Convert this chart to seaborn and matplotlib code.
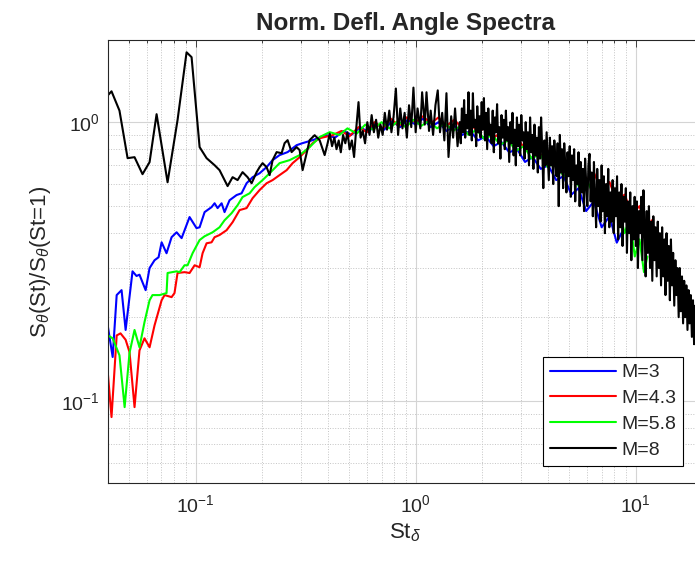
import numpy as np
import seaborn as sns
import matplotlib.pyplot as plt
from matplotlib.ticker import LogLocator, NullFormatter

# Strouhal number / normalised spectrum
st_m3 = [0.040, 0.0420, 0.0438, 0.0461, 0.0481, 0.0517, 0.0539, 0.0556, 0.0593, 0.0618,
         0.0651, 0.0679, 0.0701, 0.0738, 0.0778, 0.0820, 0.0864, 0.0939, 0.1010, 0.1043,
         0.1099, 0.1182, 0.1220, 0.1259, 0.1313, 0.1354, 0.1427, 0.1536, 0.1618, 0.1705,
         0.1816, 0.1954, 0.2102, 0.2239, 0.2408, 0.2619, 0.2878, 0.3064, 0.3402, 0.3939,
         0.43, 0.47, 0.51, 0.56, 0.61, 0.66, 0.72, 0.78, 0.85, 0.92,
         1.00, 1.08, 1.17, 1.27, 1.38, 1.50, 1.63, 1.77, 1.92, 2.08,
         2.26, 2.45, 2.66, 2.89, 3.14, 3.40, 3.70, 4.00, 4.35, 4.70,
         5.10, 5.50, 5.95, 6.45, 7.00, 7.60, 8.20, 8.60]
s_m3 = [0.184, 0.144, 0.240, 0.250, 0.180, 0.292, 0.281, 0.284, 0.250, 0.300,
        0.320, 0.328, 0.371, 0.339, 0.387, 0.403, 0.384, 0.457, 0.417, 0.420,
        0.476, 0.496, 0.512, 0.492, 0.512, 0.476, 0.525, 0.548, 0.556, 0.604,
        0.635, 0.656, 0.690, 0.731, 0.762, 0.781, 0.827, 0.841, 0.862, 0.898,
        0.88, 0.93, 0.90, 0.96, 0.92, 0.99, 0.94, 1.01, 0.96, 1.02,
        0.98, 1.03, 0.96, 1.00, 0.93, 0.97, 0.90, 0.93, 0.86, 0.89,
        0.82, 0.85, 0.78, 0.80, 0.72, 0.75, 0.68, 0.70, 0.62, 0.64,
        0.55, 0.58, 0.48, 0.52, 0.42, 0.46, 0.37, 0.40]

st_m43 = [0.040, 0.0415, 0.0438, 0.0456, 0.0481, 0.0501, 0.0528, 0.0556, 0.0586, 0.0618,
          0.0651, 0.0701, 0.0723, 0.0778, 0.0802, 0.0828, 0.0891, 0.0939, 0.0990, 0.1043,
          0.1076, 0.1122, 0.1182, 0.1220, 0.1285, 0.1383, 0.1473, 0.1585, 0.1705, 0.1816,
          0.1954, 0.2102, 0.2239, 0.2408, 0.2593, 0.2760, 0.2970, 0.3196, 0.3402, 0.3661,
          0.4195, 0.46, 0.50, 0.55, 0.60, 0.65, 0.71, 0.77, 0.84, 0.91,
          1.00, 1.08, 1.17, 1.27, 1.38, 1.50, 1.63, 1.77, 1.92, 2.08,
          2.26, 2.45, 2.66, 2.89, 3.14, 3.40, 3.70, 4.00, 4.35, 4.70,
          5.10, 5.50, 5.95, 6.45, 7.00, 7.60, 8.20, 8.90, 9.60, 10.4,
          11.2, 12.0]
s_m43 = [0.124, 0.0877, 0.172, 0.175, 0.166, 0.150, 0.0952, 0.152, 0.168, 0.156,
         0.187, 0.230, 0.240, 0.236, 0.244, 0.288, 0.290, 0.288, 0.307, 0.302,
         0.339, 0.368, 0.371, 0.387, 0.394, 0.410, 0.438, 0.484, 0.492, 0.534,
         0.571, 0.604, 0.620, 0.646, 0.673, 0.713, 0.749, 0.794, 0.841, 0.876,
         0.898, 0.93, 0.89, 0.96, 0.92, 1.00, 0.95, 1.03, 0.97, 1.04,
         1.00, 1.05, 0.99, 1.04, 0.97, 1.02, 0.95, 0.99, 0.92, 0.96,
         0.88, 0.92, 0.85, 0.88, 0.80, 0.84, 0.76, 0.79, 0.71, 0.74,
         0.66, 0.70, 0.62, 0.66, 0.57, 0.61, 0.52, 0.55, 0.47, 0.50,
         0.42, 0.45]

st_m58 = [0.040, 0.0420, 0.0451, 0.0476, 0.0501, 0.0528, 0.0556, 0.0586, 0.0618, 0.0637,
          0.0686, 0.0738, 0.0746, 0.0820, 0.0846, 0.0891, 0.0920, 0.0969, 0.1043, 0.1099,
          0.1195, 0.1285, 0.1354, 0.1458, 0.1552, 0.1635, 0.1760, 0.1854, 0.2016, 0.2170,
          0.2408, 0.2675, 0.2970, 0.3297, 0.3661, 0.4066, 0.45, 0.49, 0.54, 0.59,
          0.64, 0.70, 0.76, 0.83, 0.90, 0.98, 1.06, 1.15, 1.25, 1.36,
          1.48, 1.60, 1.74, 1.89, 2.05, 2.23, 2.42, 2.63, 2.86, 3.10,
          3.37, 3.66, 3.98, 4.30, 4.70, 5.10, 5.50, 6.00, 6.50, 7.00,
          7.60, 8.30, 8.90, 9.40, 9.90, 10.4, 10.9, 11.3]
s_m58 = [0.172, 0.168, 0.146, 0.0952, 0.149, 0.180, 0.156, 0.192, 0.230, 0.240,
         0.240, 0.244, 0.288, 0.292, 0.290, 0.307, 0.307, 0.339, 0.378, 0.390,
         0.403, 0.420, 0.445, 0.472, 0.504, 0.539, 0.556, 0.585, 0.620, 0.656,
         0.713, 0.731, 0.762, 0.814, 0.884, 0.921, 0.90, 0.95, 0.91, 0.98,
         0.94, 1.00, 0.95, 1.01, 0.96, 1.02, 0.97, 1.01, 0.95, 0.99,
         0.93, 0.97, 0.90, 0.94, 0.87, 0.90, 0.83, 0.86, 0.79, 0.82,
         0.74, 0.77, 0.69, 0.72, 0.64, 0.67, 0.59, 0.62, 0.54, 0.57,
         0.49, 0.51, 0.40, 0.45, 0.33, 0.38, 0.29, 0.33]

st_m8 = [0.0400, 0.0415, 0.0451, 0.0491, 0.0528, 0.0574, 0.0618, 0.0665, 0.0746, 0.0828,
         0.0910, 0.0959, 0.1043, 0.1122, 0.1220, 0.1285, 0.1398, 0.1473, 0.1552, 0.1635,
         0.1723, 0.1797, 0.1894, 0.1954, 0.2016, 0.2102, 0.2170, 0.2239, 0.2335, 0.2460,
         0.2538, 0.2619, 0.2731, 0.2878, 0.2970, 0.3064, 0.3196, 0.3297, 0.3475, 0.3661,
         0.3859,
         0.398, 0.407, 0.417, 0.427, 0.437, 0.447, 0.457, 0.468, 0.479, 0.490,
         0.501, 0.513, 0.525, 0.537, 0.550, 0.562, 0.575, 0.589, 0.603, 0.617,
         0.631, 0.646, 0.661, 0.676, 0.692, 0.708, 0.724, 0.741, 0.759, 0.776,
         0.794, 0.813, 0.832, 0.851, 0.871, 0.891, 0.912, 0.933, 0.955, 0.977,
         1.00, 1.02, 1.05, 1.07, 1.10, 1.12, 1.15, 1.17, 1.20, 1.23,
         1.26, 1.29, 1.32, 1.35, 1.38, 1.41, 1.45, 1.48, 1.51, 1.55,
         1.585, 1.603, 1.622, 1.641, 1.660, 1.679, 1.698, 1.718, 1.738, 1.758,
         1.778, 1.799, 1.820, 1.841, 1.862, 1.884, 1.905, 1.928, 1.950, 1.972,
         1.995, 2.018, 2.042, 2.065, 2.089, 2.113, 2.138, 2.163, 2.188, 2.213,
         2.239, 2.265, 2.291, 2.317, 2.344, 2.371, 2.399, 2.427, 2.455, 2.483,
         2.512, 2.541, 2.570, 2.600, 2.630, 2.661, 2.692, 2.723, 2.754, 2.786,
         2.818, 2.851, 2.884, 2.917, 2.951, 2.985, 3.020, 3.055, 3.090, 3.126,
         3.162, 3.199, 3.236, 3.273, 3.311, 3.350, 3.388, 3.428, 3.467, 3.508,
         3.548, 3.589, 3.631, 3.673, 3.715, 3.758, 3.802, 3.846, 3.890, 3.936,
         3.981, 4.027, 4.074, 4.121, 4.169, 4.217, 4.266, 4.315, 4.365, 4.416,
         4.467, 4.519, 4.571, 4.624, 4.677, 4.732, 4.786, 4.842, 4.898, 4.955,
         5.012, 5.070, 5.129, 5.188, 5.248, 5.309, 5.370, 5.433, 5.495, 5.559,
         5.623, 5.689, 5.754, 5.821, 5.888, 5.957, 6.026, 6.095, 6.166, 6.237,
         6.310, 6.383, 6.457, 6.531, 6.607, 6.683, 6.761, 6.839, 6.918, 6.998,
         7.079, 7.161, 7.244, 7.328, 7.413, 7.499, 7.586, 7.674, 7.762, 7.852,
         7.943, 8.035, 8.128, 8.222, 8.318, 8.414, 8.511, 8.610, 8.710, 8.810,
         8.913, 9.016, 9.120, 9.226, 9.333, 9.441, 9.550, 9.661, 9.772, 9.886,
         10.00, 10.12, 10.23, 10.35, 10.47, 10.59, 10.72, 10.84, 10.96, 11.09,
         11.22, 11.35, 11.48, 11.61, 11.75, 11.89, 12.02, 12.16, 12.30, 12.45,
         12.59, 12.74, 12.88, 13.03, 13.18, 13.34, 13.49, 13.65, 13.80, 13.96,
         14.13, 14.29, 14.45, 14.62, 14.79, 14.96, 15.14, 15.31, 15.49, 15.67,
         15.85, 16.03, 16.22, 16.41, 16.60, 16.79, 16.98, 17.18, 17.38, 17.58,
         17.78, 17.99, 18.20, 18.41, 18.62, 18.84, 19.05, 19.28, 19.50, 19.72,
         19.95, 20.18, 20.42]
s_m8 = [1.25, 1.29, 1.10, 0.743, 0.749, 0.651, 0.719, 1.068, 0.609, 1.017,
        1.78, 1.71, 0.814, 0.743, 0.701, 0.673, 0.590, 0.635, 0.620, 0.662,
        0.635, 0.604, 0.662, 0.690, 0.713, 0.690, 0.646, 0.731, 0.781, 0.774,
        0.841, 0.862, 0.781, 0.814, 0.794, 0.673, 0.774, 0.862, 0.898, 0.862,
        0.762,
        0.84, 0.91, 0.82, 0.88, 0.80, 0.86, 0.78, 0.90, 0.84, 0.92,
        0.80, 0.86, 0.75, 0.95, 1.18, 0.88, 0.93, 0.84, 1.00, 0.90,
        1.06, 0.92, 1.02, 0.88, 0.98, 0.90, 1.08, 0.94, 1.10, 0.92,
        1.05, 1.32, 0.90, 1.12, 0.95, 1.08, 0.88, 1.15, 0.96, 1.33,
        0.92, 1.12, 0.95, 1.28, 0.98, 1.28, 0.93, 1.10, 0.90, 1.15,
        1.30, 0.92, 1.08, 0.86, 1.27, 0.75, 1.05, 0.88, 1.12, 0.82,
        1.00, 0.84, 1.12, 0.92, 1.20, 0.88, 1.06, 0.95, 1.28, 0.90,
        1.10, 0.86, 1.27, 0.96, 1.02, 0.82, 1.14, 0.92, 1.05, 0.88,
        1.18, 0.94, 1.22, 0.86, 1.08, 0.80, 1.12, 0.90, 0.98, 0.84,
        1.10, 0.78, 1.04, 0.92, 1.16, 0.84, 0.96, 0.74, 1.06, 0.88,
        1.02, 0.80, 1.10, 0.86, 0.96, 0.72, 1.00, 0.84, 1.08, 0.76,
        0.94, 0.70, 1.04, 0.82, 0.98, 0.76, 1.06, 0.86, 0.92, 0.74,
        1.00, 0.80, 0.92, 0.70, 1.04, 0.78, 0.90, 0.68, 0.98, 0.76,
        0.88, 0.66, 0.96, 0.74, 1.04, 0.80, 0.58, 0.86, 0.70, 0.92,
        0.76, 0.62, 0.88, 0.70, 0.82, 0.60, 0.86, 0.72, 0.64, 0.84,
        0.50, 0.90, 0.66, 0.80, 0.58, 0.84, 0.70, 0.56, 0.78, 0.64,
        0.82, 0.54, 0.76, 0.62, 0.80, 0.52, 0.70, 0.60, 0.78, 0.50,
        0.72, 0.56, 0.68, 0.48, 0.74, 0.60, 0.50, 0.70, 0.77, 0.52,
        0.66, 0.46, 0.72, 0.54, 0.42, 0.68, 0.50, 0.62, 0.44, 0.70,
        0.48, 0.64, 0.40, 0.60, 0.46, 0.68, 0.42, 0.56, 0.44, 0.62,
        0.40, 0.58, 0.46, 0.64, 0.38, 0.56, 0.42, 0.60, 0.36, 0.54,
        0.44, 0.58, 0.34, 0.52, 0.40, 0.56, 0.32, 0.50, 0.38, 0.54,
        0.36, 0.52, 0.30, 0.48, 0.40, 0.54, 0.32, 0.57, 0.44, 0.28,
        0.48, 0.34, 0.50, 0.30, 0.44, 0.27, 0.46, 0.32, 0.42, 0.28,
        0.44, 0.30, 0.40, 0.26, 0.42, 0.28, 0.38, 0.24, 0.40, 0.27,
        0.36, 0.23, 0.38, 0.26, 0.34, 0.22, 0.32, 0.24, 0.30, 0.20,
        0.30, 0.21, 0.28, 0.19, 0.27, 0.20, 0.26, 0.18, 0.25, 0.19,
        0.24, 0.17, 0.23, 0.16, 0.22, 0.17, 0.21, 0.15, 0.20, 0.15,
        0.19, 0.14, 0.18]

labels = ["M=3", "M=4.3", "M=5.8", "M=8"]
colors = ["#0000ff", "#ff0000", "#00ff00", "#000000"]

sns.set_style("white")
plt.rcParams["font.family"] = ["Liberation Sans", "DejaVu Sans"]
plt.rcParams["mathtext.fontset"] = "custom"
plt.rcParams["mathtext.rm"] = "Liberation Sans"
plt.rcParams["mathtext.it"] = "Liberation Sans:italic"
plt.rcParams["mathtext.bf"] = "Liberation Sans:bold"

fig = plt.figure(figsize=(6.95, 5.7), dpi=100)
ax = fig.add_axes([108 / 695, 87 / 570, 594 / 695, 443 / 570])
ax.set_xscale("log")
ax.set_yscale("log")

series = [(st_m3, s_m3), (st_m43, s_m43), (st_m58, s_m58), (st_m8, s_m8)]
for (x, y), lab, col in zip(series, labels, colors):
    sns.lineplot(x=x, y=y, ax=ax, color=col, lw=1.5, label=lab,
                 estimator=None, sort=False)

ax.set_xlim(0.04, 20)
ax.set_ylim(0.0509, 1.97)

ax.xaxis.set_minor_locator(LogLocator(base=10, subs=np.arange(2, 10)))
ax.yaxis.set_minor_locator(LogLocator(base=10, subs=np.arange(2, 10)))
ax.xaxis.set_minor_formatter(NullFormatter())
ax.yaxis.set_minor_formatter(NullFormatter())

ax.grid(True, which="major", color="#d4d4d4", lw=0.8, ls="-")
ax.grid(True, which="minor", color="#c4c4c4", lw=0.7, ls=":")
ax.set_axisbelow(True)

ax.tick_params(which="both", direction="in", top=True, right=True,
               colors="#262626", labelsize=14, width=0.6)
ax.tick_params(which="major", length=5)
ax.tick_params(which="minor", length=2.5)
ax.tick_params(axis="x", pad=8)
ax.tick_params(axis="y", pad=6)
for sp in ax.spines.values():
    sp.set_color("#262626")
    sp.set_linewidth(0.8)

ax.set_title("Norm. Defl. Angle Spectra", fontsize=17.5, fontweight="bold", pad=7)
ax.set_xlabel(r"St$_\delta$", fontsize=16, color="#262626", labelpad=4)
ax.set_ylabel(r"S$_\theta$(St)/S$_\theta$(St=1)", fontsize=16, color="#262626", labelpad=6)

leg = ax.legend(loc="lower right", bbox_to_anchor=(683.3 / 695, 104 / 570),
                bbox_transform=fig.transFigure, borderaxespad=0, fontsize=14,
                handlelength=3.38, handletextpad=0.28, labelspacing=0.42,
                borderpad=0.37, fancybox=False, framealpha=1, edgecolor="black")
leg.get_frame().set_linewidth(0.8)

plt.savefig("out.png", dpi=100)
plt.close()
